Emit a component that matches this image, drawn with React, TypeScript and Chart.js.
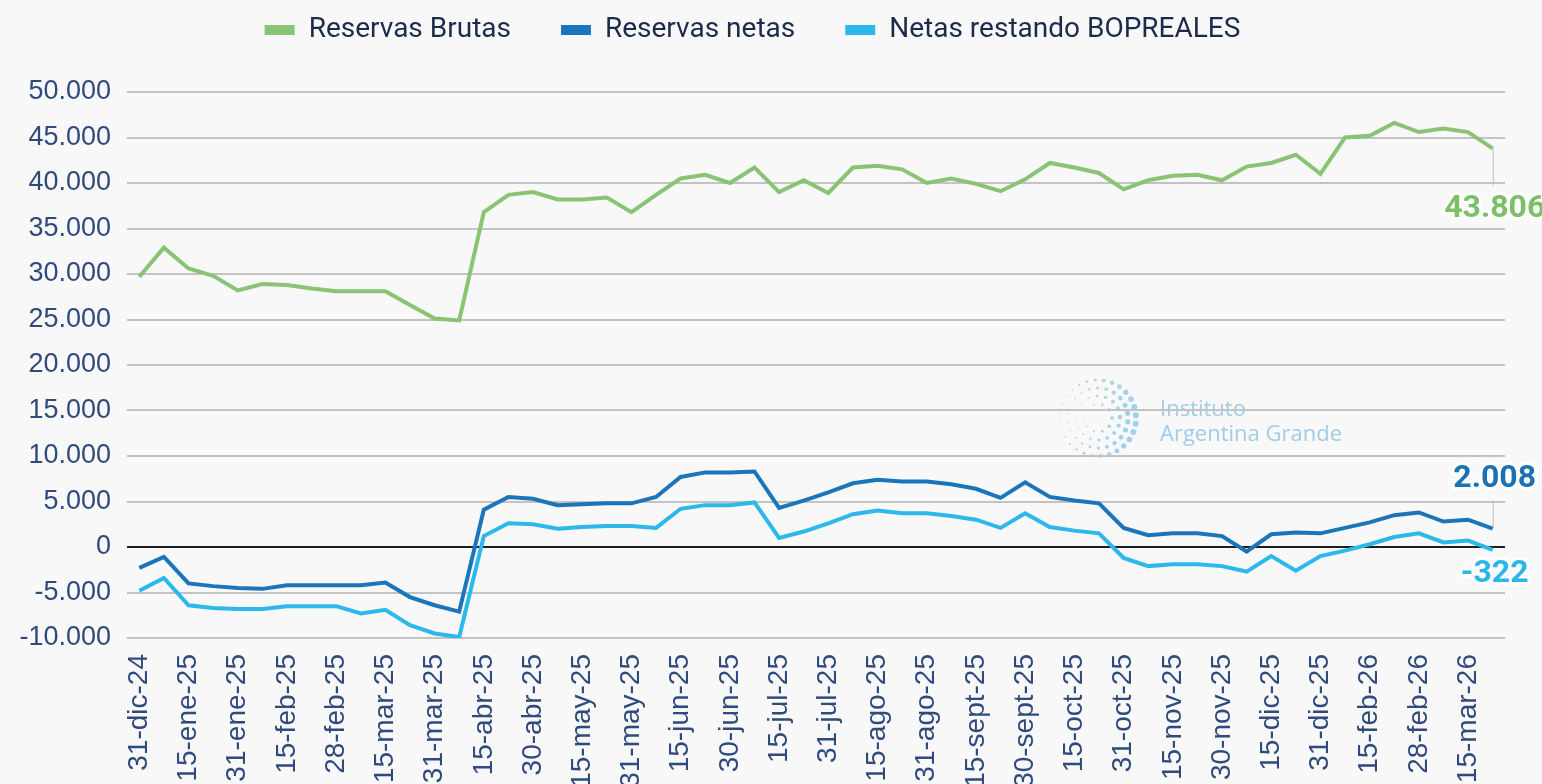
import React, { useEffect, useRef } from "react";
import { Chart, registerables } from "chart.js";

Chart.register(...registerables);

const tickLabels = [
  "31-dic-24", "15-ene-25", "31-ene-25", "15-feb-25", "28-feb-25", "15-mar-25", "31-mar-25",
  "15-abr-25", "30-abr-25", "15-may-25", "31-may-25", "15-jun-25", "30-jun-25", "15-jul-25",
  "31-jul-25", "15-ago-25", "31-ago-25", "15-sept-25", "30-sept-25", "15-oct-25", "31-oct-25",
  "15-nov-25", "30-nov-25", "15-dic-25", "31-dic-25", "15-feb-26", "28-feb-26", "15-mar-26",
];

// weekly observations: one labelled date followed by one unlabelled date
const categories = tickLabels.flatMap((l) => [l, ""]);

const reservasBrutas = [
  29700, 32900, 30600, 29800, 28200, 28900, 28800, 28400, 28100, 28100, 28100, 26600, 25100, 24900,
  36800, 38700, 39000, 38200, 38200, 38400, 36800, 38700, 40500, 40900, 40000, 41700, 39000, 40300, 38900,
  41700, 41900, 41500, 40000, 40500, 39900, 39100, 40400, 42200, 41700, 41100, 39300, 40300, 40800, 40900,
  40300, 41800, 42200, 43100, 41000, 45000, 45200, 46600, 45600, 46000, 45600, 43806,
];

const reservasNetas = [
  -2300, -1100, -4000, -4300, -4500, -4600, -4200, -4200, -4200, -4200, -3900, -5500, -6400, -7100,
  4100, 5500, 5300, 4600, 4700, 4800, 4800, 5500, 7700, 8200, 8200, 8300, 4300, 5100, 6000,
  7000, 7400, 7200, 7200, 6900, 6400, 5400, 7100, 5500, 5100, 4800, 2100, 1300, 1500, 1500,
  1200, -500, 1400, 1600, 1500, 2100, 2700, 3500, 3800, 2800, 3000, 2008,
];

const netasBopreales = [
  -4800, -3400, -6400, -6700, -6800, -6800, -6500, -6500, -6500, -7300, -6900, -8600, -9500, -9900,
  1200, 2600, 2500, 2000, 2200, 2300, 2300, 2100, 4200, 4600, 4600, 4900, 1000, 1700, 2600,
  3600, 4000, 3700, 3700, 3400, 3000, 2100, 3700, 2200, 1800, 1500, -1200, -2100, -1900, -1900,
  -2100, -2700, -1000, -2600, -1000, -400, 300, 1100, 1500, 500, 700, -322,
];

const seriesNames = ["Reservas Brutas", "Reservas netas", "Netas restando BOPREALES"];
const seriesColors = ["#88c474", "#1b75bb", "#2cb8ea"];
const labelColors = ["#7dbf68", "#1a72b5", "#2bb6ea"];

const fmt = (v: number) => {
  const s = Math.abs(Math.round(v)).toString().replace(/\B(?=(\d{3})+(?!\d))/g, ".");
  return (v < 0 ? "-" : "") + s;
};

const tickColor = "#2f4a7c";
const tickFont = "'Liberation Sans', Arial, sans-serif";

const watermarkPlugin = {
  id: "watermark",
  beforeDraw(chart: any) {
    const ctx = chart.ctx;
    ctx.save();
    const cx = 1098;
    const cy = 418;
    const rings = [
      { r: 14, n: 10 },
      { r: 22, n: 16 },
      { r: 30, n: 22 },
      { r: 38, n: 28 },
    ];
    rings.forEach((ring, ri) => {
      for (let k = 0; k < ring.n; k++) {
        const a = (k / ring.n) * Math.PI * 2 + ri * 0.35;
        const x = cx + Math.cos(a) * ring.r;
        const y = cy + Math.sin(a) * ring.r;
        const right = (Math.cos(a) + 1) / 2;
        const top = (1 - Math.sin(a)) / 2;
        const size = 0.6 + 2.4 * right * (0.5 + 0.5 * (ri / 3));
        const g = Math.max(0, 1 - right) * top;
        const rC = Math.round(130 + 80 * g);
        const gC = Math.round(195 + 30 * g);
        const bC = Math.round(235 - 110 * g);
        ctx.fillStyle = `rgba(${rC},${gC},${bC},0.75)`;
        ctx.beginPath();
        ctx.arc(x, y, size, 0, Math.PI * 2);
        ctx.fill();
      }
    });
    ctx.fillStyle = "rgba(150,200,230,0.9)";
    ctx.font = "22px 'Open Sans', sans-serif";
    ctx.textBaseline = "alphabetic";
    ctx.textAlign = "left";
    ctx.fillText("Instituto", 1160, 416);
    ctx.fillText("Argentina Grande", 1160, 441);
    ctx.restore();
  },
};

const endLabelPlugin = {
  id: "endLabels",
  afterDatasetsDraw(chart: any) {
    const ctx = chart.ctx;
    const cfg = [
      { dy: 61, lead: 37 },
      { dy: -50, lead: -28 },
      { dy: 24, lead: 0 },
    ];
    chart.data.datasets.forEach((ds: any, i: number) => {
      const meta = chart.getDatasetMeta(i);
      const last = meta.data[meta.data.length - 1];
      if (!last) return;
      const x = last.x;
      const y = last.y;
      const c = cfg[i];
      ctx.save();
      if (c.lead !== 0) {
        ctx.strokeStyle = "#bdbdbd";
        ctx.lineWidth = 1;
        ctx.beginPath();
        ctx.moveTo(x + 0.5, y);
        ctx.lineTo(x + 0.5, y + c.lead);
        ctx.stroke();
      }
      const text = fmt(ds.data[ds.data.length - 1]);
      ctx.font = "bold 32px Roboto, sans-serif";
      ctx.textAlign = "center";
      ctx.textBaseline = "middle";
      ctx.lineJoin = "round";
      ctx.lineWidth = 6;
      ctx.strokeStyle = "#ffffff";
      ctx.strokeText(text, x + 2, y + c.dy);
      ctx.fillStyle = labelColors[i];
      ctx.fillText(text, x + 2, y + c.dy);
      ctx.restore();
    });
  },
};

export default function App() {
  const ref = useRef<HTMLCanvasElement>(null);

  useEffect(() => {
    if (!ref.current) return;
    const seriesData = [reservasBrutas, reservasNetas, netasBopreales];
    const chart = new Chart(ref.current, {
      type: "line",
      data: {
        labels: categories,
        datasets: seriesNames.map((name, i) => ({
          label: name,
          data: seriesData[i],
          borderColor: seriesColors[i],
          backgroundColor: seriesColors[i],
          borderWidth: 4,
          pointRadius: 0,
          tension: 0,
          fill: false,
        })),
      },
      options: {
        responsive: false,
        animation: false,
        layout: { padding: { left: 0, right: 37, top: -34, bottom: 0 } },
        plugins: {
          tooltip: { enabled: false },
          title: {
            display: true,
            text: "",
            position: "top",
            font: { size: 10 },
            padding: { top: 26, bottom: 0 },
          },
          legend: {
            position: "top",
            weight: 3000,
            labels: {
              boxWidth: 30,
              boxHeight: 10,
              padding: 50,
              color: "#1c2b4c",
              font: { size: 28, family: "Roboto, sans-serif" },
              generateLabels: (chart: any) =>
                chart.data.datasets.map((ds: any, i: number) => ({
                  text: ds.label,
                  fillStyle: seriesColors[i],
                  strokeStyle: seriesColors[i],
                  lineWidth: 0,
                  fontColor: "#1c2b4c",
                  datasetIndex: i,
                  hidden: false,
                })),
            },
          },
        },
        scales: {
          x: {
            offset: true,
            grid: { display: false },
            border: { display: false },
            afterFit: (s: any) => {
              s.height = 146;
            },
            ticks: {
              autoSkip: false,
              maxRotation: 90,
              minRotation: 90,
              padding: 8,
              color: tickColor,
              font: { size: 28, family: tickFont },
              callback: (_v: any, i: number) => categories[i],
            },
          },
          y: {
            min: -10000,
            max: 50000,
            border: { display: false },
            afterFit: (s: any) => {
              s.width = 127;
            },
            grid: {
              drawTicks: false,
              color: (c: any) => (c.tick && c.tick.value === 0 ? "#1e1e1e" : "#c3c3c3"),
              lineWidth: 2,
            },
            ticks: {
              stepSize: 5000,
              padding: 16,
              color: tickColor,
              font: { size: 27, family: tickFont },
              callback: (v: any) => fmt(Number(v)),
            },
          },
        },
      },
      plugins: [watermarkPlugin, endLabelPlugin],
    });
    return () => chart.destroy();
  }, []);

  return (
    <div
      style={{
        position: "fixed",
        left: 0,
        top: 0,
        width: 1542,
        height: 784,
        background: "#f8f8f8",
        overflow: "hidden",
      }}
    >
      <canvas ref={ref} width={1542} height={784} style={{ display: "block" }} />
    </div>
  );
}
